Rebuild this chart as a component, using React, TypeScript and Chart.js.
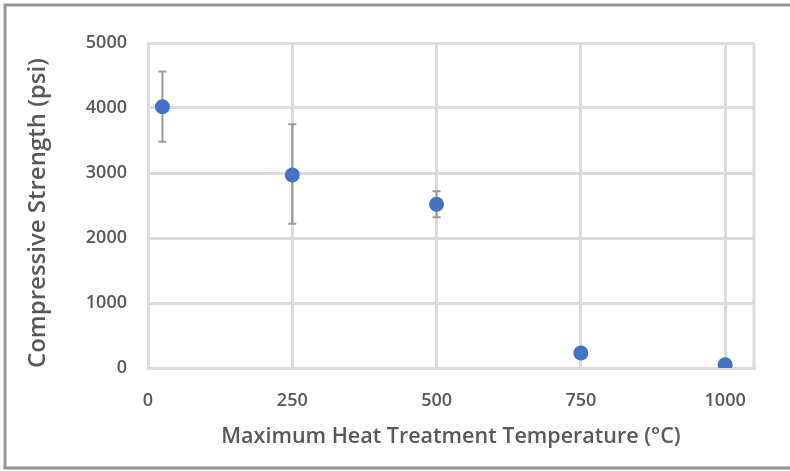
import React, { useEffect, useRef } from "react";
import { Chart, registerables } from "chart.js";

Chart.register(...registerables);

const temperatures = [25, 250, 500, 750, 1000];
const strengths = [4020, 2970, 2520, 230, 50];
const errLow = [3480, 2220, 2320, 230, 50];
const errHigh = [4560, 3750, 2720, 230, 50];
const xTickValues = [0, 250, 500, 750, 1000];
const yTickValues = [0, 1000, 2000, 3000, 4000, 5000];

const FONT = "'Open Sans', 'Noto Sans', sans-serif";
const TEXT = "#595959";
const GRID = "#dcdcdc";
const PAD_L = 24;
const PAD_B = 21;

const framePlugin = {
  id: "frame",
  beforeDraw(chart: any) {
    const { ctx, width } = chart;
    ctx.save();
    ctx.fillStyle = "#ffffff";
    ctx.fillRect(0, 0, chart.width, chart.height);
    ctx.strokeStyle = "#959595";
    ctx.lineWidth = 3;
    ctx.beginPath();
    ctx.moveTo(width, 5);
    ctx.lineTo(5, 5);
    ctx.lineTo(5, 468);
    ctx.lineTo(width, 468);
    ctx.stroke();
    ctx.restore();
  },
};

const areaPlugin = {
  id: "areaRight",
  beforeDatasetsDraw(chart: any) {
    const { ctx, chartArea } = chart;
    ctx.save();
    ctx.strokeStyle = GRID;
    ctx.lineWidth = 3;
    ctx.beginPath();
    ctx.moveTo(chartArea.right, chartArea.top);
    ctx.lineTo(chartArea.right, chartArea.bottom);
    ctx.stroke();
    const xs = chart.scales.x;
    const ys = chart.scales.y;
    ctx.strokeStyle = "#9a9a9a";
    ctx.lineWidth = 2;
    temperatures.forEach((t, i) => {
      if (errHigh[i] === errLow[i]) return;
      const px = xs.getPixelForValue(t);
      const pLo = ys.getPixelForValue(errLow[i]);
      const pHi = ys.getPixelForValue(errHigh[i]);
      ctx.beginPath();
      ctx.moveTo(px, pLo);
      ctx.lineTo(px, pHi);
      ctx.moveTo(px - 4, pLo);
      ctx.lineTo(px + 4, pLo);
      ctx.moveTo(px - 4, pHi);
      ctx.lineTo(px + 4, pHi);
      ctx.stroke();
    });
    ctx.restore();
  },
};

export default function App() {
  const ref = useRef<HTMLCanvasElement>(null);
  useEffect(() => {
    if (!ref.current) return;
    const chart = new Chart(ref.current, {
      type: "scatter",
      data: {
        datasets: [
          {
            data: temperatures.map((t, i) => ({ x: t, y: strengths[i] })),
            backgroundColor: "#4472C4",
            borderColor: "#4472C4",
            pointRadius: 7.5,
            pointBorderWidth: 0,
          },
        ],
      },
      options: {
        animation: false,
        responsive: false,
        devicePixelRatio: 1,
        layout: { padding: { left: PAD_L, top: 43, right: 36, bottom: PAD_B } },
        plugins: { legend: { display: false }, tooltip: { enabled: false } },
        scales: {
          x: {
            type: "linear",
            min: 0,
            max: 1050,
            afterBuildTicks: (s: any) => {
              s.ticks = xTickValues.map((v) => ({ value: v }));
            },
            afterFit: (s: any) => {
              s.height = 471 - PAD_B - 368;
            },
            grid: { color: GRID, lineWidth: 3, drawTicks: false },
            border: { display: true, color: GRID, width: 3 },
            ticks: {
              padding: 22,
              color: TEXT,
              font: { family: FONT, size: 18, weight: 600 },
              maxRotation: 0,
              callback: (v: any) => String(v),
            },
            title: {
              display: true,
              text: "Maximum Heat Treatment Temperature (°C)",
              color: TEXT,
              font: { family: FONT, size: 21.5, weight: 600 },
              padding: 0,
            },
          },
          y: {
            type: "linear",
            min: 0,
            max: 5000,
            afterBuildTicks: (s: any) => {
              s.ticks = yTickValues.map((v) => ({ value: v }));
            },
            afterFit: (s: any) => {
              s.width = 148 - PAD_L;
            },
            grid: { color: GRID, lineWidth: 3, drawTicks: false },
            border: { display: true, color: GRID, width: 3 },
            ticks: {
              padding: 21,
              color: TEXT,
              font: { family: FONT, size: 18, weight: 600 },
              callback: (v: any) => String(v),
            },
            title: {
              display: true,
              text: "Compressive Strength (psi)",
              align: "start",
              color: TEXT,
              font: { family: FONT, size: 24, weight: 600 },
              padding: 0,
            },
          },
        },
      },
      plugins: [framePlugin, areaPlugin],
    });
    return () => chart.destroy();
  }, []);
  return (
    <div style={{ position: "fixed", left: 0, top: 0, width: 790, height: 471 }}>
      <canvas ref={ref} width={790} height={471} style={{ display: "block" }} />
    </div>
  );
}
